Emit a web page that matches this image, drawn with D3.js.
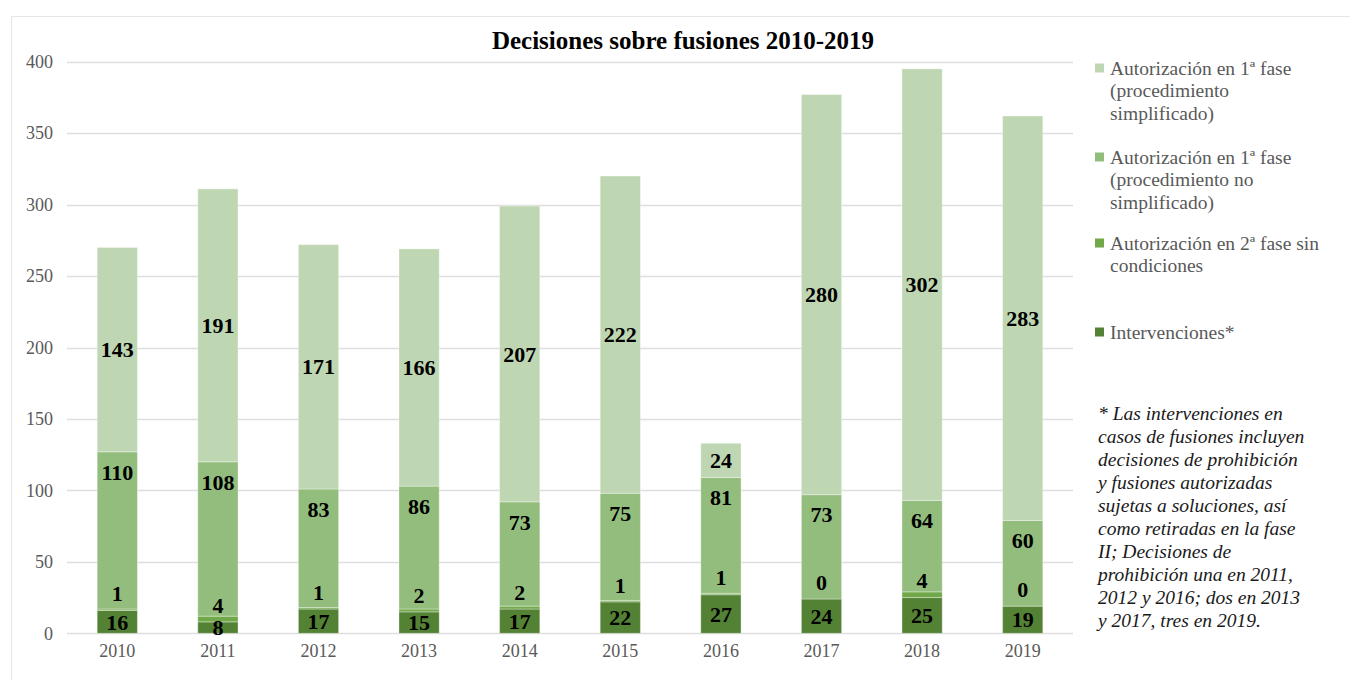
<!DOCTYPE html>
<html>
<head>
<meta charset="utf-8">
<script src="https://cdn.jsdelivr.net/npm/d3@7"></script>
<style>
    body { margin: 0; background: #fff; }
    svg text { font-family: "Liberation Serif", "Times New Roman", serif; }
</style>
</head>
<body>
<svg id="chart" width="1350" height="680"></svg>
<script>
// data
const years = ["2010", "2011", "2012", "2013", "2014", "2015", "2016", "2017", "2018", "2019"];
const intervenciones = [16, 8, 17, 15, 17, 22, 27, 24, 25, 19];
const fase2SinCond = [1, 4, 1, 2, 2, 1, 1, 0, 4, 0];
const fase1NoSimpl = [110, 108, 83, 86, 73, 75, 81, 73, 64, 60];
const fase1Simpl = [143, 191, 171, 166, 207, 222, 24, 280, 302, 283];
const yTicks = [0, 50, 100, 150, 200, 250, 300, 350, 400];

const seriesNames = [
    ["Autorización en 1ª fase", "(procedimiento", "simplificado)"],
    ["Autorización en 1ª fase", "(procedimiento no", "simplificado)"],
    ["Autorización en 2ª fase sin", "condiciones"],
    ["Intervenciones*"]
];
const footnote = [
    "* Las intervenciones en",
    "casos de fusiones incluyen",
    "decisiones de prohibición",
    "y fusiones autorizadas",
    "sujetas a soluciones, así",
    "como retiradas en la fase",
    "II; Decisiones de",
    "prohibición una en 2011,",
    "2012 y 2016; dos en 2013",
    "y 2017, tres en 2019."
];

const keys = ["interv", "fase2", "noSimpl", "simpl"];
const colors = {interv: "#548235", fase2: "#70a84a", noSimpl: "#93bd7c", simpl: "#bfd6b3"};

const table = years.map((y, i) => ({
    year: y,
    interv: intervenciones[i],
    fase2: fase2SinCond[i],
    noSimpl: fase1NoSimpl[i],
    simpl: fase1Simpl[i]
}));

const svg = d3.select("#chart");

// outer frame
svg.append("rect")
    .attr("x", 11.5).attr("y", 16.5)
    .attr("width", 1400).attr("height", 700)
    .attr("fill", "none")
    .attr("stroke", "#e6e6e6");

const x = d3.scaleBand().domain(years).range([67, 1073]).paddingInner(0.6).paddingOuter(0.3);
const y = d3.scaleLinear().domain([0, 400]).range([633.3, 61.7]);

// gridlines
svg.append("g")
    .selectAll("line")
    .data(yTicks)
    .join("line")
    .attr("x1", 67).attr("x2", 1073)
    .attr("y1", d => Math.round(y(d)) + 0.5)
    .attr("y2", d => Math.round(y(d)) + 0.5)
    .attr("stroke", "#dedede")
    .attr("stroke-width", 1.3);

// y axis labels
const yAxis = d3.axisLeft(y).tickValues(yTicks).tickSize(0).tickPadding(0);
svg.append("g")
    .attr("transform", "translate(53,0)")
    .call(yAxis)
    .call(g => g.select(".domain").remove())
    .call(g => g.selectAll("text")
        .attr("fill", "#595959")
        .attr("font-size", 18));

// x axis labels
const xAxis = d3.axisBottom(x).tickSize(0).tickPadding(0);
svg.append("g")
    .attr("transform", "translate(0,644)")
    .call(xAxis)
    .call(g => g.select(".domain").remove())
    .call(g => g.selectAll("text")
        .attr("fill", "#595959")
        .attr("font-size", 18));

// stacked bars
const stacked = d3.stack().keys(keys)(table);

svg.append("g")
    .selectAll("g")
    .data(stacked)
    .join("g")
    .attr("fill", d => colors[d.key])
    .selectAll("rect")
    .data(d => d)
    .join("rect")
    .attr("x", d => x(d.data.year))
    .attr("width", x.bandwidth())
    .attr("y", d => y(d[1]))
    .attr("height", d => y(d[0]) - y(d[1]))
    .attr("stroke", "rgba(255,255,255,0.35)")
    .attr("stroke-width", 1);

// value labels
const labelY = {
    interv: d => (y(d[0]) + y(d[1])) / 2,
    fase2: d => y(d[0]) - 17,
    noSimpl: d => y(d[1]) + 20,
    simpl: d => (y(d[0]) + y(d[1])) / 2
};

stacked.forEach(s => {
    svg.append("g")
        .selectAll("text")
        .data(s)
        .join("text")
        .attr("x", d => x(d.data.year) + x.bandwidth() / 2)
        .attr("y", d => labelY[s.key](d))
        .attr("dy", "0.35em")
        .attr("text-anchor", "middle")
        .attr("font-size", 22)
        .attr("font-weight", "bold")
        .attr("fill", "#000")
        .text(d => d.data[s.key]);
});

// title
svg.append("text")
    .attr("x", 683)
    .attr("y", 49)
    .attr("text-anchor", "middle")
    .attr("font-size", 25)
    .attr("font-weight", "bold")
    .attr("fill", "#000")
    .text("Decisiones sobre fusiones 2010-2019");

// legend
const legendKeys = ["simpl", "noSimpl", "fase2", "interv"];
const legendTop = [68, 157, 243, 332];
const legend = svg.append("g");
legendKeys.forEach((k, i) => {
    legend.append("rect")
        .attr("x", 1095)
        .attr("y", legendTop[i] - 4.5)
        .attr("width", 9)
        .attr("height", 9)
        .attr("fill", colors[k]);
    legend.append("text")
        .attr("x", 1110)
        .attr("y", legendTop[i])
        .attr("font-size", 19.5)
        .attr("fill", "#595959")
        .selectAll("tspan")
        .data(seriesNames[i])
        .join("tspan")
        .attr("x", 1110)
        .attr("dy", (d, j) => j === 0 ? "0.35em" : "22.5")
        .text(d => d);
});

// footnote
svg.append("text")
    .attr("x", 1098)
    .attr("y", 413)
    .attr("font-size", 19.5)
    .attr("font-style", "italic")
    .attr("fill", "#1a1a1a")
    .selectAll("tspan")
    .data(footnote)
    .join("tspan")
    .attr("x", 1098)
    .attr("dy", (d, j) => j === 0 ? "0.35em" : "23")
    .text(d => d);
</script>
</body>
</html>
